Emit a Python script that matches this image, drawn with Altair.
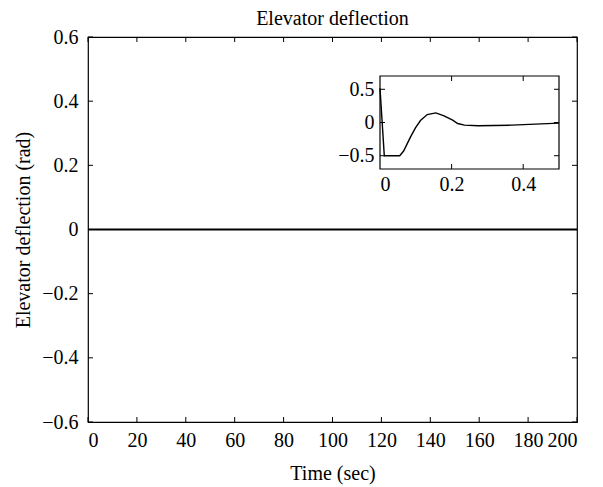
import altair as alt
import pandas as pd

# ---- data ----
main_time = [0, 200]
main_defl = [0, 0]

inset_time = [0, 0.012, 0.055, 0.066, 0.085, 0.099, 0.113, 0.132, 0.156, 0.179,
              0.203, 0.217, 0.236, 0.274, 0.368, 0.5]
inset_defl = [0.515, -0.5, -0.5, -0.43, -0.22, -0.08, 0.03, 0.12, 0.145, 0.10,
              0.036, -0.015, -0.04, -0.05, -0.04, -0.01]

main_x_ticks = [0, 20, 40, 60, 80, 100, 120, 140, 160, 180, 200]
main_y_ticks = [-0.6, -0.4, -0.2, 0, 0.2, 0.4, 0.6]
inset_x_labels = [0, 0.2, 0.4]
inset_y_ticks = [-0.5, 0, 0.5]

main_x_domain = [0, 200]
main_y_domain = [-0.6, 0.6]
inset_x_domain = [0, 0.5]
inset_y_domain = [-0.7, 0.7]

# ---- layout ----
W, H = 489, 385
inset_x_range = [292, 471]
inset_y_range = [132, 39]
FONT = "Liberation Serif"
FS = 20
TL = 5  # inward tick length in px


def span(d):
    return d[1] - d[0]


def tick_frames(xd, yd, xt, yt, wpx, hpx):
    """Inward tick segments (in data units) on the four edges of a panel."""
    dx = TL * span(xd) / wpx
    dy = TL * span(yd) / hpx
    rows = []
    for t in xt:
        rows.append((t, t, yd[0], yd[0] + dy))   # bottom
        rows.append((t, t, yd[1], yd[1] - dy))   # top
    for v in yt:
        rows.append((xd[0], xd[0] + dx, v, v))   # left
        rows.append((xd[1], xd[1] - dx, v, v))   # right
    return pd.DataFrame(rows, columns=["t", "t2", "v", "v2"])


# ---- main panel ----
mxs = alt.Scale(domain=main_x_domain, nice=False, zero=False)
mys = alt.Scale(domain=main_y_domain, nice=False, zero=False)
mx_axis = alt.Axis(values=main_x_ticks, title="Time (sec)", ticks=False, domain=False,
                   grid=False, labelPadding=8, titlePadding=13, format="d")
my_axis = alt.Axis(values=main_y_ticks, title="Elevator deflection (rad)", ticks=False,
                   domain=False, grid=False, labelPadding=10, titlePadding=8, format=".1~f")
MX = alt.X("t:Q", scale=mxs, axis=mx_axis)
MY = alt.Y("v:Q", scale=mys, axis=my_axis)

main_df = pd.DataFrame({"t": main_time, "v": main_defl})
main_line = alt.Chart(main_df).mark_line(color="black", strokeWidth=2).encode(x=MX, y=MY)
main_ticks = alt.Chart(
    tick_frames(main_x_domain, main_y_domain, main_x_ticks, main_y_ticks, W, H)
).mark_rule(color="black", strokeWidth=1).encode(x=MX, x2="t2:Q", y=MY, y2="v2:Q")

main_layer = alt.layer(main_line, main_ticks)

# ---- inset panel ----
ixs = alt.Scale(domain=inset_x_domain, range=inset_x_range, nice=False, zero=False)
iys = alt.Scale(domain=inset_y_domain, range=inset_y_range, nice=False, zero=False)
ix_axis = alt.Axis(orient="bottom", offset=-(H - inset_y_range[0]), values=inset_x_labels,
                   title=None, ticks=False, domain=False, grid=False, labelPadding=5,
                   format=".1~f")
iy_axis = alt.Axis(orient="left", offset=-inset_x_range[0], values=inset_y_ticks,
                   title=None, ticks=False, domain=False, grid=False, labelPadding=6,
                   format=".1~f")
IX = alt.X("t:Q", scale=ixs, axis=ix_axis)
IY = alt.Y("v:Q", scale=iys, axis=iy_axis)

inset_df = pd.DataFrame({"t": inset_time, "v": inset_defl})
inset_line = alt.Chart(inset_df).mark_line(color="black", strokeWidth=1.4).encode(x=IX, y=IY)

frame_df = pd.DataFrame({"t": [inset_x_domain[0]], "t2": [inset_x_domain[1]],
                         "v": [inset_y_domain[0]], "v2": [inset_y_domain[1]]})
inset_frame = alt.Chart(frame_df).mark_rect(filled=False, stroke="black", strokeWidth=1.2,
                                            opacity=1).encode(
    x=IX, x2="t2:Q", y=IY, y2="v2:Q")

inner_x = [v for v in inset_x_labels if v not in inset_x_domain]
inset_ticks = alt.Chart(
    tick_frames(inset_x_domain, inset_y_domain, inner_x, inset_y_ticks,
                inset_x_range[1] - inset_x_range[0], inset_y_range[0] - inset_y_range[1])
).mark_rule(color="black", strokeWidth=1).encode(x=IX, x2="t2:Q", y=IY, y2="v2:Q")

inset_layer = alt.layer(inset_frame, inset_line, inset_ticks)

chart = alt.layer(main_layer, inset_layer).resolve_scale(
    x="independent", y="independent"
).properties(
    width=W, height=H,
    background="white",
    autosize=alt.AutoSizeParams(type="none"),
    padding={"left": 88, "top": 37, "right": 26, "bottom": 65},
    title=alt.TitleParams("Elevator deflection", font=FONT, fontSize=FS, fontWeight="normal",
                          color="black", anchor="middle", offset=-2),
).configure_view(
    stroke="black", strokeWidth=1.2
).configure_axis(
    labelFont=FONT, labelFontSize=FS, labelColor="black",
    titleFont=FONT, titleFontSize=FS, titleFontWeight="normal", titleColor="black",
)

chart.save("out.html", embed_options={"renderer": "svg", "actions": False})
